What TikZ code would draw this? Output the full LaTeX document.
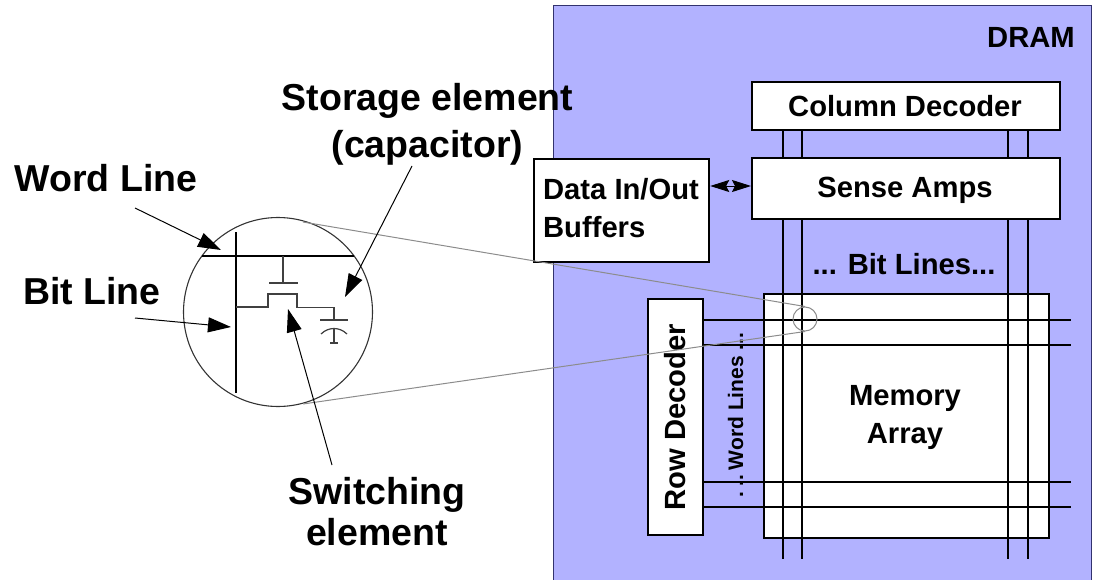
\documentclass[tikz,border=0pt]{standalone}
\usepackage{fontspec}
\setmainfont{Liberation Sans}
\usetikzlibrary{arrows.meta}
\definecolor{dramblue}{RGB}{178,178,255}
\definecolor{zoomgray}{RGB}{140,140,140}
\definecolor{dramedge}{RGB}{50,50,110}
\tikzset{
  blockbox/.style={draw=black,line width=2.2pt,fill=white,inner sep=0pt,anchor=north west},
  biglabel/.style={font=\bfseries\fontsize{37.5}{47}\selectfont,align=center,inner sep=0pt},
  boxlabel/.style={font=\bfseries\fontsize{29.2}{38}\selectfont,inner sep=0pt},
  gridline/.style={line width=1.8pt,black},
  thickwire/.style={line width=2.4pt,black},
  thinwire/.style={line width=1.2pt,black!75},
  zoomline/.style={line width=1pt,zoomgray},
  callout/.style={line width=1pt,-{Triangle[length=23pt,width=15pt]}},
  datatip/.tip={Stealth[length=19pt,width=12pt,inset=3pt]},
}
\begin{document}
\begin{tikzpicture}[x=1pt,y=-1pt]
\useasboundingbox (0,0) rectangle (1099,580);
\node[draw=dramedge,line width=.8pt,fill=dramblue,minimum width=538pt,minimum height=576pt,inner sep=0pt,anchor=north west] (dram) at (553,5) {};
\node[boxlabel] (dramlabel) at (1031,37) {DRAM};
% word line label sits under the lines
\node[boxlabel,rotate=90,font=\bfseries\fontsize{21}{25}\selectfont] (wordlines) at (735.5,415) {.\hspace{5pt}..\hspace{-3pt} Word Lines ...};
% bit lines
\foreach \n/\x in {a/783,b/802,c/1008,d/1028}{
  \coordinate (bt\n) at (\x,129);
  \coordinate (bb\n) at (\x,559);
}
\node[blockbox,minimum width=285pt,minimum height=244pt] (array) at (763,293) {};
\node[boxlabel,align=center] (arraylabel) at (905,417) {Memory\\Array};
\foreach \n in {a,b,c,d}{\draw[gridline] (bt\n) -- (bb\n);}
% word lines
\foreach \n/\y in {a/320,b/345,c/482,d/507}{
  \coordinate (wl\n) at (703,\y);
  \coordinate (wr\n) at (1071,\y);
  \draw[gridline] (wl\n) -- (wr\n);
}
\node[blockbox,minimum width=308pt,minimum height=48pt] (coldec) at (751,81) {};
\node[boxlabel] (coldeclabel) at (905,106) {Column Decoder};
\node[blockbox,minimum width=308pt,minimum height=61pt] (sense) at (751,157) {};
\node[boxlabel] (senselabel) at (905,190) {Sense Amps};
\node[blockbox,minimum width=175pt,minimum height=103pt] (buffers) at (533,158) {};
\node[boxlabel,align=left] (bufferslabel) at (621,208) {Data In/Out\\Buffers};
\node[blockbox,minimum width=55pt,minimum height=236pt] (rowdec) at (647,298) {};
\node[boxlabel,rotate=90] (rowdeclabel) at (675,417) {Row Decoder};
\node[boxlabel] (bitlines) at (904,264) {... Bit Lines...};
% data arrows
\coordinate (dmid) at (730,186);
\draw[line width=1pt,{datatip}-{datatip}] (buffers.east |- dmid) -- (sense.west |- dmid);
% zoom
\node[draw=black!80,line width=1.1pt,circle,minimum size=189pt,inner sep=0pt] (bigc) at (278,312) {};
\node[draw=zoomgray,line width=1pt,circle,minimum size=24pt,inner sep=0pt] (smallc) at (805,319) {};
\coordinate (zt) at (303,222); \coordinate (zb) at (303,404);
\draw[zoomline] (zt) -- (smallc.north);
\draw[zoomline] (zb) -- (smallc.south);
% circuit
\coordinate (wla) at (202,256); \coordinate (wlb) at (354,256);
\coordinate (bla) at (236,232); \coordinate (blb) at (236,393);
\draw[thickwire] (wla) -- (wlb);
\draw[thickwire] (bla) -- (blb);
\coordinate (g0) at (283,256); \coordinate (g1) at (283,283);
\coordinate (gl) at (269,283); \coordinate (gr) at (298,283);
\draw[thinwire] (g0) -- (g1) (gl) -- (gr);
\coordinate (ch0) at (236,307); \coordinate (cp) at (334,320);
\draw[thinwire] (ch0) -- (268,307) -- (268,294) -- (297,294) -- (297,307.5) -- (334,307.5) -- (cp);
\coordinate (cpl) at (320,320); \coordinate (cpr) at (348,320);
\draw[thinwire] (cpl) -- (cpr);
\draw[thinwire] (321,334) .. controls (325,330) and (330,328.5) .. (334,328.5) .. controls (338,328.5) and (343,330) .. (347,334);
\draw[thinwire] (334,328.5) -- (334,343) (330,343) -- (338,343);
% labels
\node[biglabel] (storagelabel) at (427.5,124) {Storage element\\(capacitor)};
\node[biglabel] (wordlabel) at (106,178) {Word Line};
\node[biglabel] (bitlabel) at (92,291) {Bit Line};
\node[biglabel,font=\bfseries\fontsize{37.5}{41}\selectfont] (switchlabel) at (377,512) {Switching\\element};
\coordinate (wt) at (221,250); \coordinate (bt) at (231,327); \coordinate (st) at (345,297); \coordinate (swt) at (288,309);
\coordinate (ws) at (135,208); \coordinate (bs) at (135,318); \coordinate (ss) at (412,166); \coordinate (sws) at (332,465);
\draw[callout] (ws) -- (wt);
\draw[callout] (bs) -- (bt);
\draw[callout] (ss) -- (st);
\draw[callout] (sws) -- (swt);
\end{tikzpicture}
\end{document}
